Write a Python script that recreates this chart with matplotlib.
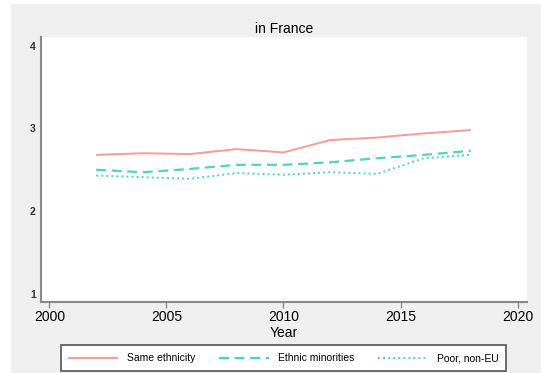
import matplotlib.pyplot as plt
from matplotlib.patches import Rectangle

plt.rcParams['font.family'] = ['Liberation Sans', 'DejaVu Sans']

years = [2002, 2004, 2006, 2008, 2010, 2012, 2014, 2016, 2018]
same_ethnicity = [2.68, 2.70, 2.69, 2.75, 2.71, 2.86, 2.89, 2.94, 2.98]
ethnic_minorities = [2.50, 2.47, 2.51, 2.56, 2.56, 2.59, 2.64, 2.68, 2.73]
poor_non_eu = [2.43, 2.41, 2.39, 2.46, 2.44, 2.47, 2.45, 2.64, 2.68]

x_ticks = [2000, 2005, 2010, 2015, 2020]
y_ticks = [1, 2, 3, 4]

SALMON = '#f59d95'
TEAL = '#4fd3c4'
AXIS_GREY = '#8a8a8a'

fig = plt.figure(figsize=(5.41, 3.73), dpi=100, facecolor='white')
# grey graph region (white margin on the left and top edge)
fig.patches.append(Rectangle((11 / 541, 0), 1 - 11 / 541, 369 / 373,
                             transform=fig.transFigure, facecolor='#efefef',
                             edgecolor='none', zorder=-10))

ax = fig.add_axes([40.7 / 541, (373 - 302) / 373,
                   (527 - 40.7) / 541, (302 - 36.7) / 373])
ax.set_facecolor('white')

l1, = ax.plot(years, same_ethnicity, color=SALMON, lw=1.4, solid_capstyle='butt')
l2, = ax.plot(years, ethnic_minorities, color=TEAL, lw=1.6,
              linestyle=(0, (4.5, 2.5)))
l3, = ax.plot(years, poor_non_eu, color=TEAL, lw=1.4,
              linestyle=(0, (1, 1.6)))

ax.set_xlim(1999.63, 2020.4)
ax.set_ylim(0.9, 4.11)
ax.set_xticks(x_ticks)
ax.set_yticks(y_ticks)
ax.tick_params(axis='x', length=4, width=1, color=AXIS_GREY, labelsize=10, pad=2)
ax.tick_params(axis='y', length=0, labelsize=7.5, pad=3.5)
for lab in ax.get_yticklabels():
    lab.set_fontweight('bold')
    lab.set_color('#333333')

for side in ('top', 'right'):
    ax.spines[side].set_visible(False)
for side in ('left', 'bottom'):
    ax.spines[side].set_color(AXIS_GREY)
    ax.spines[side].set_linewidth(1.5)

ax.set_xlabel('Year', fontsize=10, labelpad=1)
ax.set_title('in France', fontsize=10, pad=3)

leg = fig.legend([l1, l2, l3],
                 ['Same ethnicity', 'Ethnic minorities', 'Poor, non-EU'],
                 loc='lower left',
                 bbox_to_anchor=(60.5 / 541, 2 / 373, (506 - 60.5) / 541, 26 / 373),
                 mode='expand', ncol=3, fontsize=7.5, handlelength=4.8,
                 handletextpad=0.8, borderaxespad=0, fancybox=False,
                 framealpha=1, edgecolor='#555555', borderpad=0.75)
leg.get_frame().set_linewidth(1.2)

fig.savefig('out.png', dpi=100, facecolor='white')
